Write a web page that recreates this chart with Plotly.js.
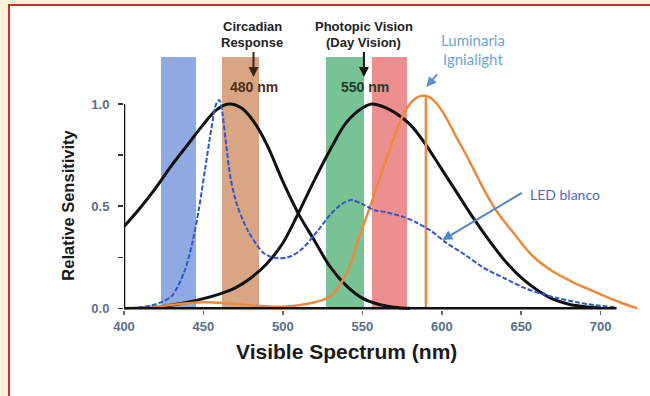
<!DOCTYPE html>
<html>
<head>
<meta charset="utf-8">
<script src="https://cdn.plot.ly/plotly-3.0.1.min.js"></script>
<style>
  html, body { margin: 0; padding: 0; background: #fdf1d9; width: 650px; height: 396px; overflow: hidden; }
  #frame { position: absolute; left: 8px; top: 4px; width: 640px; height: 390px; border-left: 2px solid #c9302c; border-top: 2px solid #c9302c; background: #ffffff; }
  #chart { width: 640px; height: 390px; }
</style>
</head>
<body>
<div id="frame"><div id="chart"></div></div>
<script>
// ---- data ----
const bandLow  = [423, 461.5, 527, 556];
const bandHigh = [445.5, 485, 551, 578];
const bandTop  = [1.232, 1.232, 1.232, 1.232];
const bandColors = ['#8fa9e2', '#d8a685', '#79c296', '#ee8f8f'];

const circWl  = [400, 410, 420, 430, 440, 450, 458, 466, 474, 482, 490, 500, 510, 520, 530, 540, 550, 560, 570, 580];
const circVal = [0.40, 0.49, 0.59, 0.70, 0.80, 0.90, 0.97, 1.00, 0.98, 0.91, 0.80, 0.62, 0.46, 0.33, 0.20, 0.11, 0.05, 0.02, 0.006, 0.0];

const photWl  = [420, 440, 460, 470, 480, 490, 500, 510, 520, 530, 540, 550, 556, 562, 570, 580, 590, 600, 610, 620, 630, 640, 650, 660, 670, 680, 690, 700];
const photVal = [0.005, 0.03, 0.07, 0.10, 0.15, 0.22, 0.32, 0.47, 0.63, 0.78, 0.91, 0.98, 1.0, 0.99, 0.96, 0.90, 0.80, 0.68, 0.56, 0.44, 0.33, 0.23, 0.15, 0.09, 0.045, 0.02, 0.008, 0.003];

const ledWl  = [400, 410, 420, 430, 438, 443, 447, 451, 455, 458, 460, 462, 464, 467, 471, 478, 488, 497, 505, 512, 522, 530, 537, 543, 550, 558, 565, 575, 584, 593, 603, 615, 626, 640, 652, 663, 673, 685, 697, 710];
const ledVal = [0.0, 0.005, 0.02, 0.06, 0.18, 0.32, 0.48, 0.68, 0.88, 1.0, 1.02, 0.95, 0.82, 0.64, 0.51, 0.38, 0.27, 0.245, 0.255, 0.29, 0.38, 0.46, 0.51, 0.53, 0.51, 0.48, 0.47, 0.45, 0.42, 0.38, 0.32, 0.26, 0.20, 0.145, 0.10, 0.07, 0.05, 0.03, 0.015, 0.005];

const ignWl  = [400, 420, 440, 450, 460, 475, 490, 500, 510, 520, 530, 540, 548, 555, 561, 567, 573, 579, 584, 588, 592, 597, 603, 609, 614, 620, 628, 635, 645, 658, 670, 682, 692, 701, 712, 723];
const ignVal = [0.0, 0.01, 0.025, 0.03, 0.028, 0.018, 0.01, 0.008, 0.015, 0.03, 0.06, 0.17, 0.35, 0.50, 0.64, 0.77, 0.90, 0.99, 1.03, 1.04, 1.035, 1.0, 0.93, 0.84, 0.77, 0.68, 0.56, 0.47, 0.37, 0.25, 0.18, 0.13, 0.095, 0.065, 0.03, 0.0];

const ignPeakWl = [590, 590];
const ignPeakVal = [0, 1.04];

const xTicks = [400, 450, 500, 550, 600, 650, 700];
const yTicks = [0, 0.25, 0.5, 0.75, 1.0];
const yTickText = ['0.0', '', '0.5', '', '1.0'];

// ---- traces ----
const F = 'Liberation Sans, Arial, sans-serif';
const traces = [];
traces.push({
  type: 'bar',
  x: bandLow.map((l, i) => (l + bandHigh[i]) / 2),
  y: bandTop,
  width: bandLow.map((l, i) => bandHigh[i] - l),
  marker: { color: bandColors, line: { width: 0 } },
  hoverinfo: 'skip'
});
traces.push({ type: 'scatter', mode: 'lines', x: circWl, y: circVal,
  line: { color: '#111111', width: 3, shape: 'spline', smoothing: 1 } });
traces.push({ type: 'scatter', mode: 'lines', x: photWl, y: photVal,
  line: { color: '#111111', width: 3, shape: 'spline', smoothing: 1 } });
traces.push({ type: 'scatter', mode: 'lines', x: ignWl, y: ignVal,
  line: { color: '#ec8a3e', width: 2.5, shape: 'spline', smoothing: 1 } });
traces.push({ type: 'scatter', mode: 'lines', x: ignPeakWl, y: ignPeakVal,
  line: { color: '#ec8a3e', width: 2.5 } });
traces.push({ type: 'scatter', mode: 'lines', x: ledWl, y: ledVal,
  line: { color: '#2f57c9', width: 2, dash: '5px,2px', shape: 'spline', smoothing: 0.8 } });

const TF = { family: F, size: 13, color: '#222', weight: 'bold' };
const annotations = [
  { x: 480.8, y: 1.380, text: 'Circadian', showarrow: false, font: TF },
  { x: 480.8, y: 1.300, text: 'Response', showarrow: false, font: TF },
  { x: 550.8, y: 1.380, text: 'Photopic Vision', showarrow: false, font: TF },
  { x: 550.8, y: 1.300, text: '(Day Vision)', showarrow: false, font: TF },
  { x: 482.1, y: 1.085, text: '480 nm', showarrow: false, font: { family: F, size: 14, color: '#4a3018', weight: 'bold' } },
  { x: 551.9, y: 1.085, text: '550 nm', showarrow: false, font: { family: F, size: 14, color: '#1f3f28', weight: 'bold' } },
  { x: 619.8, y: 1.313, text: 'Luminaria', showarrow: false, font: { family: 'Lato, sans-serif', size: 15, color: '#6fa3db' } },
  { x: 619.8, y: 1.220, text: 'Ignialight', showarrow: false, font: { family: 'Lato, sans-serif', size: 15, color: '#6fa3db' } },
  { x: 677.7, y: 0.555, text: 'LED blanco', showarrow: false, font: { family: 'Lato, sans-serif', size: 14, color: '#4a69cb' } },
  // arrows
  { x: 481.5, y: 1.132, ax: 481.5, ay: 1.262, axref: 'x', ayref: 'y', text: '', showarrow: true, arrowhead: 2, arrowsize: 1, arrowwidth: 2, arrowcolor: '#3a2412' },
  { x: 551, y: 1.132, ax: 551, ay: 1.262, axref: 'x', ayref: 'y', text: '', showarrow: true, arrowhead: 2, arrowsize: 1, arrowwidth: 2, arrowcolor: '#111' },
  { x: 590.3, y: 1.083, ax: 597.8, ay: 1.152, axref: 'x', ayref: 'y', text: '', showarrow: true, arrowhead: 2, arrowsize: 1, arrowwidth: 2, arrowcolor: '#5b8fd2' },
  { x: 600.3, y: 0.334, ax: 651.3, ay: 0.569, axref: 'x', ayref: 'y', text: '', showarrow: true, arrowhead: 2, arrowsize: 1, arrowwidth: 2, arrowcolor: '#4f86cc' },
  // axis titles
  { xref: 'paper', yref: 'paper', x: 0.430, y: -0.138, text: 'Visible Spectrum (nm)', showarrow: false, xanchor: 'center', yanchor: 'middle',
    font: { family: F, size: 21, color: '#1a1a1a', weight: 'bold' } },
  { xref: 'paper', yref: 'paper', x: -0.107, y: 0.352, text: 'Relative Sensitivity', showarrow: false, textangle: -90, xanchor: 'center', yanchor: 'middle',
    font: { family: F, size: 16.5, color: '#1a1a1a', weight: 'bold' } }
];

const layout = {
  width: 640, height: 390,
  margin: { l: 113.5, r: 8.2, t: 6.06, b: 86.1, pad: 0 },
  paper_bgcolor: '#ffffff', plot_bgcolor: '#ffffff',
  showlegend: false,
  bargap: 0,
  xaxis: {
    range: [400, 726], tickvals: xTicks, ticks: 'outside', ticklen: 4, tickwidth: 1.5, tickcolor: '#5b6f8a',
    showline: false, showgrid: false, zeroline: false,
    tickfont: { family: F, size: 13, color: '#5b6f8a', weight: 'bold' }
  },
  yaxis: {
    range: [-0.008, 1.45], tickvals: yTicks, ticktext: yTickText, ticks: 'outside', ticklen: 5, tickwidth: 1.5, tickcolor: '#333',
    showline: false, showgrid: false, zeroline: false, ticklabelstandoff: 6,
    tickfont: { family: F, size: 13, color: '#5b6f8a', weight: 'bold' }
  },
  shapes: [
    { type: 'line', xref: 'x', yref: 'y', x0: 400, x1: 710, y0: 0, y1: 0, line: { color: '#111', width: 2.5 }, layer: 'above' },
    { type: 'line', xref: 'x', yref: 'y', x0: 400, x1: 400, y0: 0, y1: 1.0, line: { color: '#111', width: 2.5 }, layer: 'above' }
  ],
  annotations: annotations
};

Plotly.newPlot('chart', traces, layout, { displayModeBar: false, staticPlot: true });
</script>
</body>
</html>
